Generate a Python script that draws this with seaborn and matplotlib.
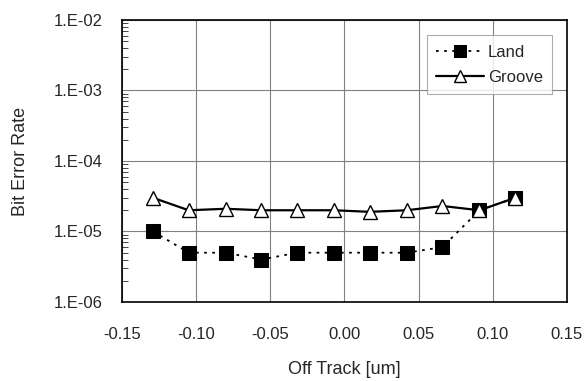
import math
import matplotlib
matplotlib.use("Agg")
import matplotlib.pyplot as plt
import matplotlib.ticker as mticker
import pandas as pd
import seaborn as sns

off_track = [-0.129, -0.105, -0.080, -0.056, -0.032, -0.007, 0.017, 0.042, 0.066, 0.091, 0.115]
land_ber = [1.0e-5, 5e-6, 5e-6, 4e-6, 5e-6, 5e-6, 5e-6, 5e-6, 6e-6, 2.0e-5, 3.0e-5]
groove_ber = [3.0e-5, 2.0e-5, 2.1e-5, 2.0e-5, 2.0e-5, 2.0e-5, 1.9e-5, 2.0e-5, 2.3e-5, 2.0e-5, 3.0e-5]

df = pd.DataFrame({
    "off_track": off_track * 2,
    "ber": land_ber + groove_ber,
    "track": ["Land"] * len(off_track) + ["Groove"] * len(off_track),
})

sns.set_style("white")
plt.rcParams["font.family"] = ["Liberation Sans", "DejaVu Sans"]

fig = plt.figure(figsize=(5.85, 3.81), dpi=100)
ax = fig.add_axes([0.2085, 0.2074, 0.7607, 0.7401])

sns.lineplot(data=df[df.track == "Land"], x="off_track", y="ber", ax=ax,
             color="black", linestyle=(0, (1.5, 3)), linewidth=1.3,
             marker="s", markersize=9.5, markerfacecolor="black",
             markeredgecolor="black", label="Land")
sns.lineplot(data=df[df.track == "Groove"], x="off_track", y="ber", ax=ax,
             color="black", linestyle="-", linewidth=1.6,
             marker="^", markersize=10.5, markerfacecolor="white",
             markeredgecolor="black", markeredgewidth=1.0, label="Groove")

ax.set_yscale("log")
ax.set_ylim(1e-6, 1e-2)
ax.set_xlim(-0.15, 0.15)
ax.set_xticks([-0.15, -0.10, -0.05, 0.0, 0.05, 0.10, 0.15])
ax.xaxis.set_major_formatter(mticker.FormatStrFormatter("%.2f"))
ax.yaxis.set_major_locator(mticker.LogLocator(base=10, numticks=10))
ax.yaxis.set_major_formatter(mticker.FuncFormatter(lambda v, p: "1.E-%02d" % round(-math.log10(v))))
ax.yaxis.set_minor_locator(mticker.LogLocator(base=10, subs=range(2, 10), numticks=20))
ax.yaxis.set_minor_formatter(mticker.NullFormatter())

ax.grid(True, which="major", color="#808080", linewidth=0.8)
ax.tick_params(axis="x", which="major", length=0, labelsize=12, pad=18)
ax.tick_params(axis="y", which="major", length=0, labelsize=12, pad=14)
ax.tick_params(axis="y", which="minor", direction="in", length=4, width=0.6, left=True)
for s in ax.spines.values():
    s.set_color("black")
    s.set_linewidth(1.2)

ax.set_xlabel("Off Track [um]", fontsize=13, labelpad=14)
ax.set_ylabel("Bit Error Rate", fontsize=13, labelpad=18)

leg = ax.legend(loc="upper right", fontsize=12, frameon=True, fancybox=False,
                edgecolor="#999999", handlelength=2.9, borderpad=0.55,
                labelspacing=0.6, handletextpad=0.2, markerscale=0.85,
                bbox_to_anchor=(0.985, 0.975))
leg.get_frame().set_linewidth(0.8)

fig.savefig("out.png", dpi=100)
